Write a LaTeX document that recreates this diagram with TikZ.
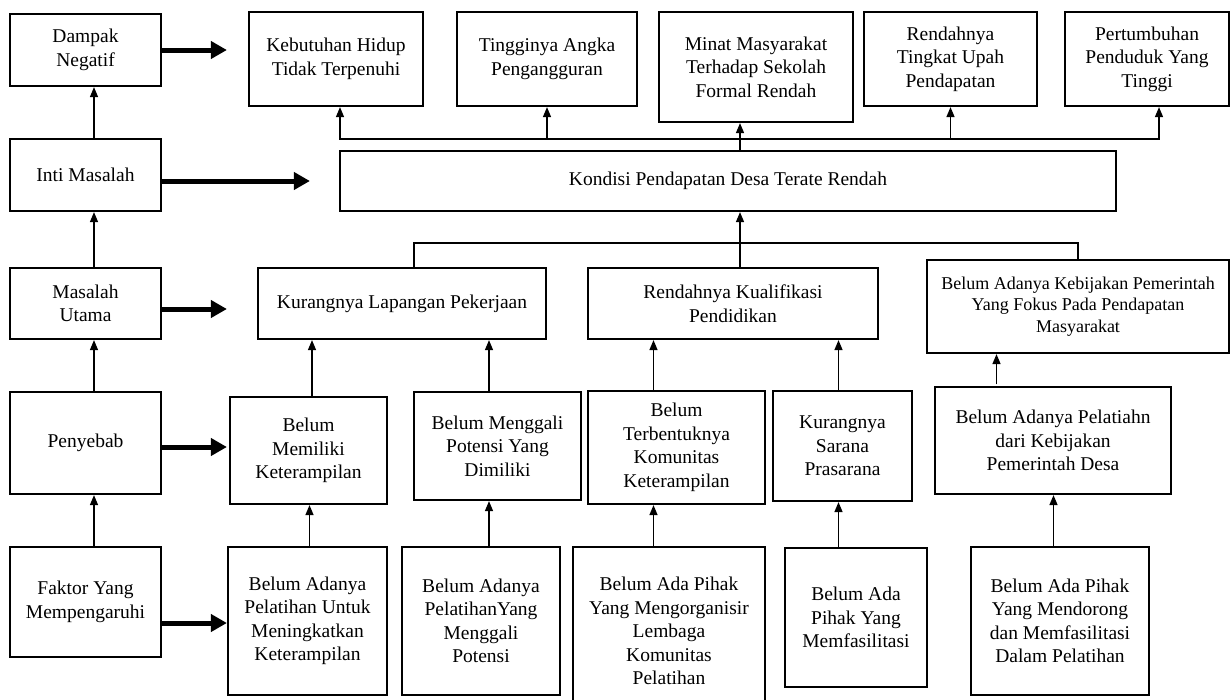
\documentclass[tikz,border=0pt]{standalone}
\usepackage{fontspec}
\setmainfont{Liberation Serif}
\usetikzlibrary{arrows.meta}
\tikzset{
  box/.style={draw,line width=2.2pt,align=center,inner sep=2pt,font=\fontsize{19.5}{23.5}\selectfont},
  arr/.style={line width=1.4pt,-{Triangle[length=10pt,width=8pt]}},
  fat/.style={line width=5pt,-{Triangle[length=16pt,width=17pt]}},
  link/.style={line width=1.4pt}
}
\begin{document}
\begin{tikzpicture}[x=1pt,y=-1pt]
\useasboundingbox (0,0) rectangle (1231,699);
% kolom kiri
\node[box,minimum width=151pt,minimum height=72pt] (dampak) at (85.5,50) {Dampak\\Negatif};
\node[box,minimum width=151pt,minimum height=72pt] (inti) at (85.5,175) {Inti Masalah};
\node[box,minimum width=151pt,minimum height=71pt] (masalah) at (85.5,303.5) {Masalah\\Utama};
\node[box,minimum width=151pt,minimum height=102pt] (penyebab) at (85.5,443) {Penyebab};
\node[box,minimum width=151pt,minimum height=110pt] (faktor) at (85.5,602) {Faktor Yang\\Mempengaruhi};
% dampak
\node[box,minimum width=174pt,minimum height=94pt] (keb) at (336,59) {Kebutuhan Hidup\\Tidak Terpenuhi};
\node[box,minimum width=180pt,minimum height=94pt] (ting) at (547,59) {Tingginya Angka\\Pengangguran};
\node[box,minimum width=194pt,minimum height=110pt] (minat) at (756,67) {Minat Masyarakat\\Terhadap Sekolah\\Formal Rendah};
\node[box,minimum width=173pt,minimum height=94pt] (rend) at (950.5,59) {Rendahnya\\Tingkat Upah\\Pendapatan};
\node[box,minimum width=164pt,minimum height=94pt] (pert) at (1147,59) {Pertumbuhan\\Penduduk Yang\\Tinggi};
% inti dan masalah utama
\node[box,minimum width=776pt,minimum height=60pt] (kondisi) at (728,181) {Kondisi Pendapatan Desa Terate Rendah};
\node[box,minimum width=288pt,minimum height=71pt] (kurang) at (402,303.5) {Kurangnya Lapangan Pekerjaan};
\node[box,minimum width=290pt,minimum height=71pt] (kual) at (733,303.5) {Rendahnya Kualifikasi\\Pendidikan};
\node[box,minimum width=302pt,minimum height=93pt,font=\fontsize{18}{21.7}\selectfont] (bijak) at (1078,306.5) {Belum Adanya Kebijakan Pemerintah\\Yang Fokus Pada Pendapatan\\Masyarakat};
% penyebab
\node[box,minimum width=157pt,minimum height=107pt] (memiliki) at (308.5,450.5) {Belum\\Memiliki\\Keterampilan};
\node[box,minimum width=167pt,minimum height=108pt] (menggali) at (497.5,446) {Belum Menggali\\Potensi Yang\\Dimiliki};
\node[box,minimum width=177pt,minimum height=113pt] (bentuk) at (676.5,447.5) {Belum\\Terbentuknya\\Komunitas\\Keterampilan};
\node[box,minimum width=139pt,minimum height=110pt] (sarana) at (842.5,446) {Kurangnya\\Sarana\\Prasarana};
\node[box,minimum width=236pt,minimum height=107pt] (pelatiahn) at (1053,440.5) {Belum Adanya Pelatiahn\\dari Kebijakan\\Pemerintah Desa};
% faktor
\node[box,minimum width=159pt,minimum height=148pt] (untuk) at (307.5,621) {Belum Adanya\\Pelatihan Untuk\\Meningkatkan\\Keterampilan};
\node[box,minimum width=158pt,minimum height=148pt] (potensi) at (481,621) {Belum Adanya\\PelatihanYang\\Menggali\\Potensi};
\node[box,minimum width=192pt,minimum height=168pt] (organisir) at (669,631) {Belum Ada Pihak\\Yang Mengorganisir\\Lembaga\\Komunitas\\Pelatihan};
\node[box,minimum width=142pt,minimum height=139pt] (fasilitas) at (856,617.5) {Belum Ada\\Pihak Yang\\Memfasilitasi};
\node[box,minimum width=178pt,minimum height=148pt] (dorong) at (1060,621) {Belum Ada Pihak\\Yang Mendorong\\dan Memfasilitasi\\Dalam Pelatihan};

\draw[arr] ([xshift=8.5pt]inti.north) -- ([xshift=8.5pt]dampak.south);
\draw[arr] ([xshift=8.5pt]masalah.north) -- ([xshift=8.5pt]inti.south);
\draw[arr] ([xshift=8.5pt]penyebab.north) -- ([xshift=8.5pt]masalah.south);
\draw[arr] ([xshift=8.5pt]faktor.north) -- ([xshift=8.5pt]penyebab.south);

\draw[fat] (dampak.east) -- ([xshift=-21pt]keb.west |- dampak.east);
\draw[fat] ([yshift=-6pt]inti.east) -- ([xshift=-29pt]kondisi.west);
\draw[fat] ([yshift=-5.5pt]masalah.east) -- ([yshift=-5.5pt,xshift=-30pt]kurang.west);
\draw[fat] ([yshift=-4pt]penyebab.east) -- ([yshift=3.5pt,xshift=-2pt]memiliki.west);
\draw[fat] ([yshift=-21pt]faktor.east) -- ([yshift=-2pt]untuk.west);

\coordinate (hub) at (740,139);
\coordinate (mid) at (740,243);
\draw[arr] (kondisi.north -| hub) -- (minat.south -| hub);
\draw[arr] (hub) -| ([xshift=4pt]keb.south);
\draw[arr] (hub -| ting.south) -- (ting.south);
\draw[arr] (hub) -| (rend.south);
\draw[arr] (hub) -| ([xshift=12pt]pert.south);
\draw[link] (mid) -| ([xshift=12pt]kurang.north);
\draw[link] (mid) -| (bijak.north);
\draw[arr] (kual.north -| mid) -- (kondisi.south -| mid);

\draw[arr] ([xshift=3.5pt]memiliki.north) -- ([xshift=-90pt]kurang.south);
\draw[arr] ([xshift=-8.5pt]menggali.north) -- ([xshift=87pt]kurang.south);
\draw[arr] ([xshift=-23pt]bentuk.north) -- ([xshift=-79.5pt]kual.south);
\draw[arr] ([xshift=-4pt]sarana.north) -- ([xshift=105.5pt]kual.south);
\draw[arr] ([xshift=-56.5pt,yshift=1.5pt]pelatiahn.north) -- ([xshift=-81.5pt]bijak.south);
\draw[arr] ([xshift=2pt]untuk.north) -- ([xshift=1pt]memiliki.south);
\draw[arr] ([xshift=8pt]potensi.north) -- ([xshift=-8.5pt]menggali.south);
\draw[arr] ([xshift=-15.5pt]organisir.north) -- ([xshift=-23pt]bentuk.south);
\draw[arr] ([xshift=-17.5pt]fasilitas.north) -- ([xshift=-4pt]sarana.south);
\draw[arr] ([xshift=-6.5pt]dorong.north) -- ([xshift=0.5pt]pelatiahn.south);
\end{tikzpicture}
\end{document}
